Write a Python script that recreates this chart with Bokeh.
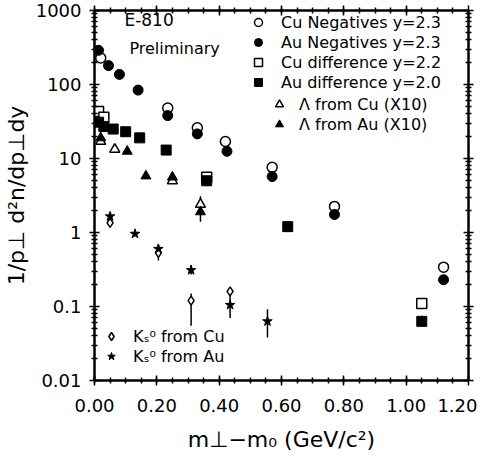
from bokeh.plotting import figure
from bokeh.models import (LogAxis, LinearAxis, FixedTicker, CustomJSTickFormatter,
                          Legend, LegendItem, Label, NumeralTickFormatter)
from bokeh.embed import file_html
from bokeh.resources import INLINE

# ---------------- data ----------------
cu_neg_x = [0.02, 0.235, 0.33, 0.42, 0.57, 0.77, 1.12]
cu_neg_y = [228, 48, 26, 17, 7.6, 2.25, 0.34]

au_neg_x = [0.013, 0.045, 0.08, 0.14, 0.235, 0.33, 0.425, 0.57, 0.77, 1.12]
au_neg_y = [290, 180, 137, 84, 38, 21.5, 12.5, 5.7, 1.75, 0.23]

cu_diff_x = [0.013, 0.03, 0.36, 1.05]
cu_diff_y = [43, 36, 5.6, 0.11]

au_diff_x = [0.013, 0.03, 0.06, 0.10, 0.145, 0.23, 0.36, 0.62, 1.05]
au_diff_y = [31, 27, 25, 23, 19, 13, 5.0, 1.2, 0.063]

lam_cu_x = [0.02, 0.065, 0.25, 0.34]
lam_cu_y = [17, 13.3, 5.0, 2.4]

lam_au_x = [0.02, 0.105, 0.165, 0.25, 0.34]
lam_au_y = [19, 12.5, 5.8, 5.6, 1.9]

k_cu_x = [0.05, 0.205, 0.31, 0.435]
k_cu_y = [1.35, 0.53, 0.12, 0.16]

k_au_x = [0.05, 0.13, 0.205, 0.31, 0.435, 0.555]
k_au_y = [1.65, 0.96, 0.6, 0.31, 0.105, 0.063]

# error bars (x, low, high)
err_x = [0.205, 0.31, 0.31, 0.435, 0.555, 0.34, 1.05]
err_lo = [0.42, 0.055, 0.27, 0.07, 0.038, 1.4, 0.055]
err_hi = [0.70, 0.15, 0.36, 0.17, 0.092, 3.1, 0.075]

x_ticks = [0.0, 0.2, 0.4, 0.6, 0.8, 1.0, 1.2]
y_ticks = [0.01, 0.1, 1, 10, 100, 1000]

FONT = "DejaVu Sans"

p = figure(frame_width=374, frame_height=370, x_range=(0, 1.2), y_range=(0.01, 1000),
           y_axis_type="log", output_backend="svg", toolbar_location=None,
           min_border_left=90, min_border_right=9, min_border_top=10,
           min_border_bottom=60)
p.grid.visible = False
p.outline_line_color = "black"
p.outline_line_width = 2
p.background_fill_color = "white"
p.border_fill_color = "white"

y_minor = [m * d for d in y_ticks[:-1] for m in range(2, 10)]
x_minor = [i * 0.05 for i in range(0, 25)]

def style_axis(ax, show_labels):
    ax.axis_line_width = 2
    ax.axis_line_color = "black"
    ax.major_tick_in = 5
    ax.major_tick_out = 5
    ax.minor_tick_in = 3
    ax.minor_tick_out = 3
    ax.major_tick_line_width = 1.5
    ax.minor_tick_line_width = 1.5
    ax.major_label_text_font = FONT
    ax.major_label_text_font_size = "18px"
    ax.major_label_text_color = "black"
    ax.axis_label_text_color = "black"
    if not show_labels:
        ax.major_label_text_font_size = "0px"
        ax.major_label_standoff = 0

# left axis
yl = p.yaxis[0]
yl.ticker = FixedTicker(ticks=y_ticks, minor_ticks=y_minor)
yl.formatter = CustomJSTickFormatter(code="return tick.toString()")
style_axis(yl, True)
yl.major_label_standoff = 8
yl.axis_label = "1/p\u22a5 d\u00b2n/dp\u22a5dy"
yl.axis_label_text_font = FONT
yl.axis_label_text_font_size = "22px"
yl.axis_label_text_font_style = "normal"
yl.axis_label_standoff = 4

# bottom axis
xb = p.xaxis[0]
xb.ticker = FixedTicker(ticks=x_ticks, minor_ticks=x_minor)
xb.formatter = NumeralTickFormatter(format="0.00")
style_axis(xb, True)
xb.major_label_standoff = 13
xb.axis_label = "m\u22a5\u2212m\u2080 (GeV/c\u00b2)"
xb.axis_label_text_font = FONT
xb.axis_label_text_font_size = "22px"
xb.axis_label_text_font_style = "normal"
xb.axis_label_standoff = 12

# right and top axes (ticks only)
yr = LogAxis(ticker=FixedTicker(ticks=y_ticks, minor_ticks=y_minor),
             formatter=CustomJSTickFormatter(code="return ''"))
style_axis(yr, False)
p.add_layout(yr, "right")
xt = LinearAxis(ticker=FixedTicker(ticks=x_ticks, minor_ticks=x_minor),
                formatter=CustomJSTickFormatter(code="return ''"))
style_axis(xt, False)
p.add_layout(xt, "above")

# error bars
p.segment(x0=err_x, y0=err_lo, x1=err_x, y1=err_hi, line_color="black", line_width=1.5)

# markers
r_cu_neg = p.scatter(cu_neg_x, cu_neg_y, marker="circle", size=10, fill_color="white",
                     line_color="black", line_width=1.5)
r_au_neg = p.scatter(au_neg_x, au_neg_y, marker="circle", size=10, fill_color="black",
                     line_color="black")
r_cu_diff = p.scatter(cu_diff_x, cu_diff_y, marker="square", size=10, fill_color="white",
                      line_color="black", line_width=1.5)
r_au_diff = p.scatter(au_diff_x, au_diff_y, marker="square", size=10, fill_color="black",
                      line_color="black")
r_lam_cu = p.scatter(lam_cu_x, lam_cu_y, marker="triangle", size=10, fill_color="white",
                     line_color="black", line_width=1.5)
r_lam_au = p.scatter(lam_au_x, lam_au_y, marker="triangle", size=10, fill_color="black",
                     line_color="black")
r_k_cu = p.scatter(k_cu_x, k_cu_y, marker="diamond", size=9, fill_color="white",
                   line_color="black", line_width=1.5)
r_k_au = p.scatter(k_au_x, k_au_y, marker="star", size=10, fill_color="black",
                   line_color="black")

def make_legend(items, loc, standoff):
    lg = Legend(items=items, location=loc, orientation="vertical")
    lg.label_text_font = FONT
    lg.label_text_font_size = "16px"
    lg.label_text_color = "black"
    lg.glyph_width = 20
    lg.glyph_height = 20
    lg.label_height = 20
    lg.label_standoff = standoff
    lg.spacing = 0
    lg.padding = 0
    lg.margin = 0
    lg.background_fill_alpha = 0
    lg.border_line_alpha = 0
    p.add_layout(lg, "center")
    return lg

make_legend([
    LegendItem(label="Cu Negatives y=2.3", renderers=[r_cu_neg]),
    LegendItem(label="Au Negatives y=2.3", renderers=[r_au_neg]),
    LegendItem(label="Cu difference y=2.2", renderers=[r_cu_diff]),
    LegendItem(label="Au difference y=2.0", renderers=[r_au_diff]),
], (154, 288), 13)
make_legend([
    LegendItem(label="\u039b from Cu (X10)", renderers=[r_lam_cu]),
    LegendItem(label="\u039b from Au (X10)", renderers=[r_lam_au]),
], (175, 246), 10)
make_legend([
    LegendItem(label="K\u209b\u2070 from Cu", renderers=[r_k_cu]),
    LegendItem(label="K\u209b\u2070 from Au", renderers=[r_k_au]),
], (7, 14), 12)

p.add_layout(Label(x=0.096, y=540, text="E-810", text_font=FONT,
                   text_font_size="17px", text_color="black"))
p.add_layout(Label(x=0.112, y=228, text="Preliminary", text_font=FONT,
                   text_font_size="16px", text_color="black"))

open("out.html", "w").write(file_html(p, INLINE))
